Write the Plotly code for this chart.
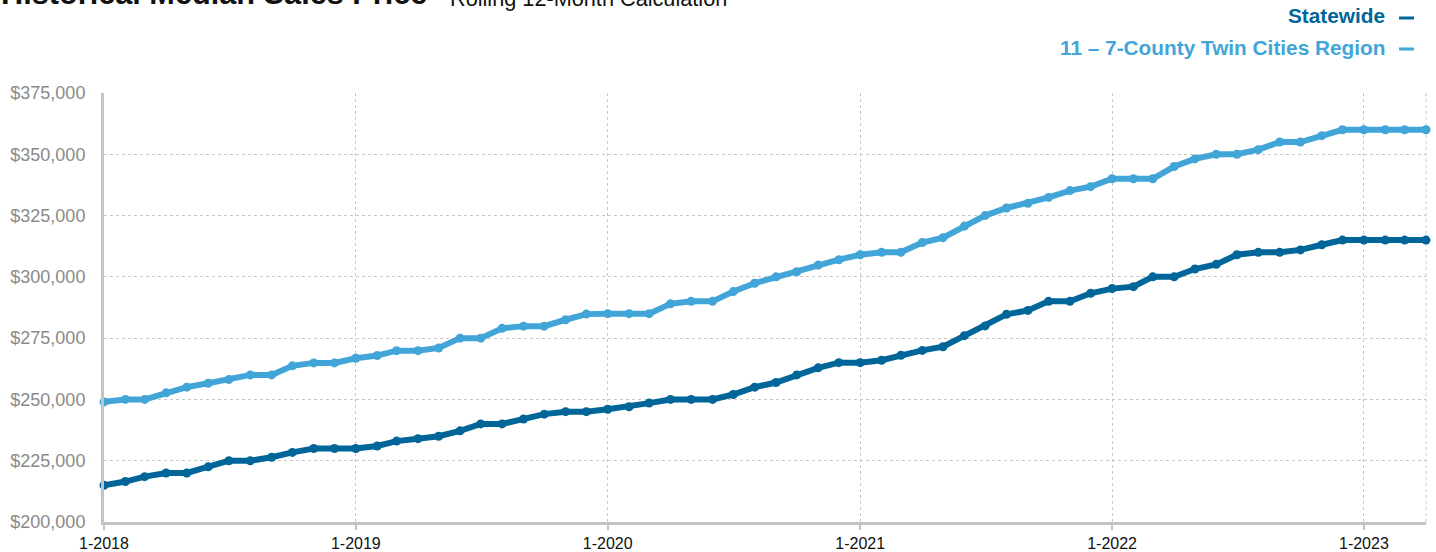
import plotly.graph_objects as go

months = [f"{y}-{m:02d}-01" for y in range(2018, 2024) for m in range(1, 13)][:64]

statewide = [
    215000, 216500, 218500, 220000, 220000, 222500, 225000, 225000, 226400, 228400, 230000, 230000,
    230000, 231000, 233000, 234000, 235000, 237200, 240000, 240000, 242000, 244000, 245000, 245000,
    246000, 247000, 248500, 250000, 250000, 250000, 252000, 255000, 256900, 260000, 262900, 265000,
    265000, 266000, 268000, 270000, 271500, 276000, 280000, 284700, 286300, 290000, 290000, 293300,
    295200, 296000, 300000, 300000, 303200, 305100, 309000, 310000, 310000, 311000, 313100, 315000,
    315000, 315000, 315000, 315000,
]

twin_cities = [
    249000, 250000, 250000, 252700, 255000, 256600, 258100, 260000, 260000, 263700, 264900, 264900,
    266800, 267900, 269900, 269900, 271000, 275000, 275000, 279000, 279900, 279900, 282500, 284800,
    285000, 285000, 285000, 289000, 290000, 290000, 294000, 297400, 300000, 302100, 304800, 307000,
    309000, 310000, 310000, 314000, 316000, 320700, 325000, 328100, 330000, 332400, 335200, 336800,
    340000, 340000, 340000, 345000, 348100, 350000, 350000, 351900, 355000, 355000, 357600, 360000,
    360000, 360000, 360000, 360000,
]

tick_vals = ["2018-01-01", "2019-01-01", "2020-01-01", "2021-01-01", "2022-01-01", "2023-01-01"]
tick_text = ["1-2018", "1-2019", "1-2020", "1-2021", "1-2022", "1-2023"]

series_names = ["Statewide", "11 – 7-County Twin Cities Region"]
DARK = "#006699"
LIGHT = "#42a5d8"

W, H = 1436, 552
L, R, T, B = 104, 10, 93, 30
PW = W - L - R
PH = H - T - B

def px_x(p):
    return (p - L) / PW

def px_y(p):
    return 1 + (T - p) / PH

fig = go.Figure()
fig.add_trace(go.Scatter(
    x=months, y=statewide, mode="lines+markers", name=series_names[0],
    line=dict(color=DARK, width=6), marker=dict(color=DARK, size=9),
    cliponaxis=False,
))
fig.add_trace(go.Scatter(
    x=months, y=twin_cities, mode="lines+markers", name=series_names[1],
    line=dict(color=LIGHT, width=6), marker=dict(color=LIGHT, size=9),
    cliponaxis=False,
))

font_family = "Liberation Sans, Arial, sans-serif"

fig.update_layout(
    width=W, height=H,
    margin=dict(l=L, r=R, t=T, b=B, pad=0),
    paper_bgcolor="white", plot_bgcolor="white",
    showlegend=False,
    font=dict(family=font_family),
    xaxis=dict(
        type="date", automargin=False,
        range=["2018-01-01", "2023-04-01"],
        tickvals=tick_vals, ticktext=tick_text,
        showgrid=True, gridcolor="#c8c8c8", gridwidth=1, griddash="dot",
        showline=True, linecolor="#c4c4c4", linewidth=3,
        ticks="outside", ticklen=5, tickwidth=2, tickcolor="#c4c4c4",
        ticklabelstandoff=0,
        tickfont=dict(size=16, color="#111111"),
        zeroline=False,
    ),
    yaxis=dict(
        automargin=False,
        range=[200000, 375000], dtick=25000, tick0=200000,
        tickprefix="$", tickformat=",",
        showgrid=True, gridcolor="#c8c8c8", gridwidth=1, griddash="dot",
        showline=True, linecolor="#c4c4c4", linewidth=3,
        ticks="", ticklabelstandoff=12,
        tickfont=dict(size=18, color="#8a8a8a"),
        zeroline=False,
    ),
)

# right border dotted line
fig.add_shape(type="line", xref="paper", yref="paper", x0=1, x1=1, y0=0, y1=1,
              line=dict(color="#c8c8c8", width=1, dash="dot"), layer="below")

# title and subtitle (partially cut at top, as in reference)
fig.add_annotation(
    xref="paper", yref="paper", x=px_x(-1), y=px_y(13.5), xanchor="left", yanchor="bottom",
    text="<b>Historical Median Sales Price</b>", showarrow=False,
    font=dict(size=30.7, color="#111111", family=font_family),
)
fig.add_annotation(
    xref="paper", yref="paper", x=px_x(448), y=px_y(12.5), xanchor="left", yanchor="bottom",
    text="Rolling 12-Month Calculation", showarrow=False,
    font=dict(size=21.7, color="#111111", family=font_family),
)

# legend as annotations with dashes on the right
for name, color, yc in [(series_names[0], DARK, 16), (series_names[1], LIGHT, 47)]:
    fig.add_annotation(
        xref="paper", yref="paper", x=px_x(1387), y=px_y(yc), xanchor="right", yanchor="middle",
        text=f"<b>{name}</b>", showarrow=False,
        font=dict(size=20.8, color=color, family=font_family),
    )
    fig.add_shape(type="line", xref="paper", yref="paper",
                  x0=px_x(1399), x1=px_x(1414), y0=px_y(yc + 2), y1=px_y(yc + 2),
                  line=dict(color=color, width=3))

fig.write_html(
    "out.html",
    config={"displayModeBar": False},
    post_script="document.body.style.margin='0';document.body.style.overflow='hidden';",
)
